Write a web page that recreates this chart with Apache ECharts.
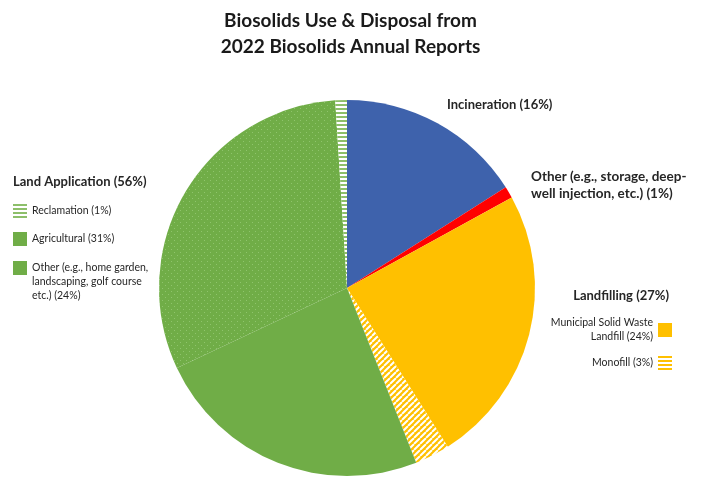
<!DOCTYPE html>
<html><head><meta charset="utf-8">
<script src="https://cdn.jsdelivr.net/npm/echarts@6/dist/echarts.min.js"></script>
<style>html,body{margin:0;padding:0;background:#fff}#c{width:701px;height:478px}</style>
</head><body><div id="c"></div>
<script>
// ---- data ----
const sliceNames = ['Incineration', 'Other (storage/deep-well)', 'Municipal Solid Waste Landfill', 'Monofill', 'Other land application', 'Agricultural', 'Reclamation'];
const sliceValues = [16, 1, 24, 3, 24, 31, 1];
const groupNames = ['Land Application', 'Landfilling'];
const groupValues = [56, 27];
const labelTexts = {
  'Incineration': 'Incineration',
  'Other (storage/deep-well)': 'Other (e.g., storage, deep-\nwell injection, etc.)',
  'Municipal Solid Waste Landfill': 'Municipal Solid Waste\nLandfill',
  'Monofill': 'Monofill',
  'Other land application': 'Other (e.g., home garden,\nlandscaping, golf course\netc.)',
  'Agricultural': 'Agricultural',
  'Reclamation': 'Reclamation'
};
const titleLines = ['Biosolids Use & Disposal from', '2022 Biosolids Annual Reports'];

// ---- patterns ----
const GREEN = '#70AD47', YELLOW = '#FFC000', BLUE = '#3E62AC', RED = '#FF0000';
function mk(w, h, draw) { const c = document.createElement('canvas'); c.width = w; c.height = h; draw(c.getContext('2d')); return { image: c, repeat: 'repeat' }; }
const dotted = mk(6, 6, g => { g.fillStyle = GREEN; g.fillRect(0,0,6,6); g.fillStyle = '#8FC46C'; g.fillRect(0,0,1,1); g.fillRect(3,3,1,1); });
const hStripes = mk(4, 4, g => { g.fillStyle = '#fff'; g.fillRect(0,0,4,4); g.fillStyle = '#8DBF6A'; g.fillRect(0,0,4,2); });
const hStripesY = mk(4, 4, g => { g.fillStyle = '#fff'; g.fillRect(0,0,4,4); g.fillStyle = YELLOW; g.fillRect(0,0,4,2); });
const diag = mk(6, 6, g => { g.fillStyle = YELLOW; g.fillRect(0,0,6,6); g.strokeStyle = '#fff'; g.lineWidth = 2;
  g.beginPath(); for (let k = -6; k <= 12; k += 6) { g.moveTo(k, 0); g.lineTo(k - 6, 6); } g.stroke(); });
const reclam = mk(1, 4, g => { g.fillStyle = '#fff'; g.fillRect(0,0,1,4); g.fillStyle = '#8DBF6A'; g.fillRect(0,0,1,2); });
const sliceColors = [BLUE, RED, YELLOW, diag, GREEN, dotted, reclam];
const legendIconColors = { 'Reclamation': hStripes, 'Agricultural': GREEN, 'Other land application': GREEN, 'Municipal Solid Waste Landfill': YELLOW, 'Monofill': hStripesY };

const FONT = 'Lato, "Open Sans", sans-serif';
const TXT = '#262626';
const pct = n => labelTexts[n] + ' (' + sliceValues[sliceNames.indexOf(n)] + '%)';

function leg(name, pos, align, prefix) {
  return Object.assign({
    orient: 'vertical', align: align, itemWidth: 14, itemHeight: 14, itemGap: 0, padding: 0,
    selectedMode: false,
    data: [{ name: name, icon: 'rect', itemStyle: { color: legendIconColors[name] } }],
    formatter: n => (prefix || '') + pct(n),
    textStyle: { fontFamily: FONT, fontSize: 10.5, color: TXT, lineHeight: 14 }
  }, pos);
}

const chart = echarts.init(document.getElementById('c'), null, { renderer: 'canvas' });
chart.setOption({
  animation: false,
  title: { text: titleLines.join('\n'), left: 'center', top: 3,
    textStyle: { fontFamily: FONT, fontWeight: 'bold', fontSize: 19, color: '#1a1a1a', lineHeight: 26 } },
  legend: [
    leg('Reclamation', { left: 13, top: 204 }, 'left'),
    leg('Agricultural', { left: 13, top: 232 }, 'left'),
    leg('Other land application', { left: 13, top: 233 }, 'left', '\n\n'),
    leg('Municipal Solid Waste Landfill', { right: 29, top: 316 }, 'right'),
    leg('Monofill', { right: 29, top: 356 }, 'right')
  ],
  graphic: [
    { type: 'text', left: 13, top: 175, style: { text: groupNames[0] + ' (' + groupValues[0] + '%)', font: 'bold 13px ' + FONT, fill: TXT } },
    { type: 'text', right: 32, top: 289, style: { text: groupNames[1] + ' (' + groupValues[1] + '%)', font: 'bold 13px ' + FONT, fill: TXT } },
    { type: 'text', left: 447, top: 98, style: { text: pct('Incineration'), font: 'bold 13px ' + FONT, fill: TXT } },
    { type: 'text', left: 531, top: 168, style: { text: pct('Other (storage/deep-well)'), font: 'bold 13.5px ' + FONT, fill: TXT, align: 'center', lineHeight: 17 } }
  ],
  series: [{
    type: 'pie', center: [347, 288], radius: 188, startAngle: 90, clockwise: true,
    label: { show: false }, labelLine: { show: false }, emphasis: { disabled: true },
    itemStyle: { borderWidth: 0 },
    data: sliceNames.map((n, i) => ({ name: n, value: sliceValues[i], itemStyle: { color: sliceColors[i] } }))
  }]
});
</script></body></html>
